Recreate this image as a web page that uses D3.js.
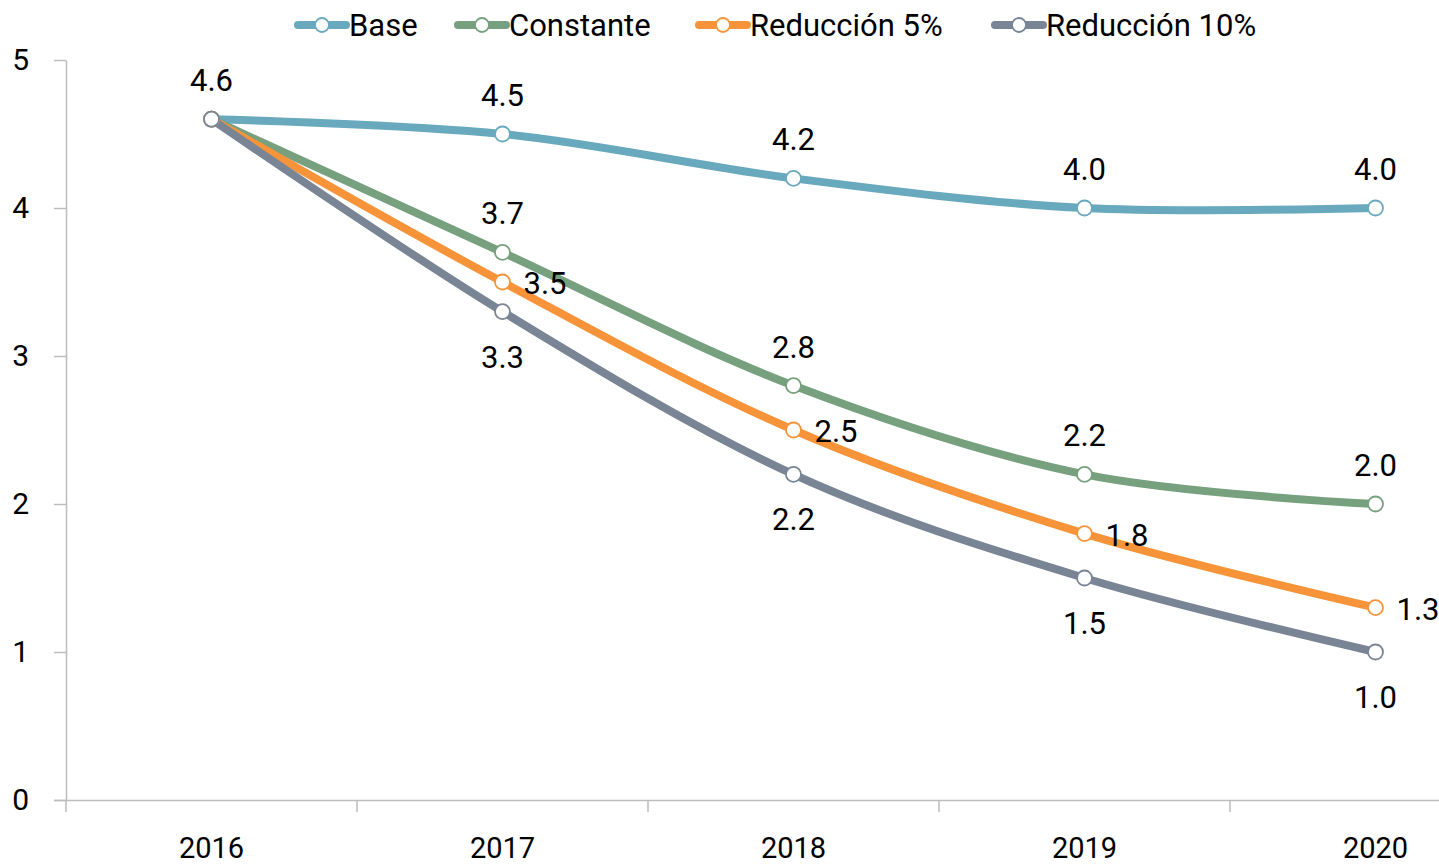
<!DOCTYPE html>
<html>
<head>
<meta charset="utf-8">
<script src="https://cdn.jsdelivr.net/npm/d3@7"></script>
<style>
  html, body { margin: 0; padding: 0; background: #fff; }
  svg { display: block; font-family: Roboto, "DejaVu Sans", sans-serif; }
</style>
</head>
<body>
<svg id="chart" width="1439" height="868"></svg>
<script>
// Years on the horizontal axis
const years = ["2016", "2017", "2018", "2019", "2020"];

// Series values per year
const base       = [4.6, 4.5, 4.2, 4.0, 4.0];
const constante  = [4.6, 3.7, 2.8, 2.2, 2.0];
const reduccion5 = [4.6, 3.5, 2.5, 1.8, 1.3];
const reduccion10 = [4.6, 3.3, 2.2, 1.5, 1.0];

// Y axis tick values
const yTicks = [0, 1, 2, 3, 4, 5];

const seriesNames = ["Base", "Constante", "Reducción 5%", "Reducción 10%"];
const seriesValues = [base, constante, reduccion5, reduccion10];
const seriesColors = ["#69a9be", "#77a07f", "#f7943a", "#798494"];
const labelPlacement = ["above", "above", "right", "below"];

const svg = d3.select("#chart");

const x = d3.scaleBand().domain(years).range([66, 1521]);
const y = d3.scaleLinear().domain([0, 5]).range([800, 60]);
const cx = d => x(d) + x.bandwidth() / 2;

const axisColor = "#bdbdbd";
const fontSize = 31;

// Y axis
const yAxis = svg.append("g")
  .attr("transform", "translate(66,0)")
  .call(d3.axisLeft(y).tickValues(yTicks).tickFormat(d3.format("d"))
    .tickSize(12).tickPadding(25).tickSizeOuter(0));
yAxis.select(".domain").attr("stroke", axisColor).attr("stroke-width", 1.5);
yAxis.selectAll(".tick line").attr("stroke", axisColor).attr("stroke-width", 1.5);
yAxis.selectAll(".tick text")
  .attr("fill", "#000").attr("font-size", 30).attr("font-family", "Roboto, sans-serif")
  .attr("dy", "0.3em");

// X axis with ticks on band boundaries
const xAxis = svg.append("g")
  .attr("transform", "translate(0,800)")
  .call(d3.axisBottom(x).tickSize(0).tickPadding(37).tickSizeOuter(0));
xAxis.select(".domain").attr("stroke", axisColor).attr("stroke-width", 1.5)
  .attr("d", "M54,0.5H1521");
xAxis.selectAll(".tick text")
  .attr("fill", "#000").attr("font-size", 29).attr("font-family", "Roboto, sans-serif");
xAxis.selectAll(".boundary")
  .data(years)
  .join("line")
  .attr("class", "boundary")
  .attr("x1", d => x(d)).attr("x2", d => x(d))
  .attr("y1", 0).attr("y2", 12)
  .attr("stroke", axisColor).attr("stroke-width", 1.5);

// Lines
const line = d3.line()
  .x((d, i) => cx(years[i]))
  .y(d => y(d))
  .curve(d3.curveCardinal.tension(0));

seriesValues.forEach((vals, s) => {
  svg.append("path")
    .datum(vals)
    .attr("d", line)
    .attr("fill", "none")
    .attr("stroke", seriesColors[s])
    .attr("stroke-width", 8)
    .attr("stroke-linecap", "round");
});

// Markers
seriesValues.forEach((vals, s) => {
  svg.append("g").selectAll("circle")
    .data(vals)
    .join("circle")
    .attr("cx", (d, i) => cx(years[i]))
    .attr("cy", d => y(d))
    .attr("r", 7.5)
    .attr("fill", "#fff")
    .attr("stroke", seriesColors[s])
    .attr("stroke-width", 1.8);
});

// Value labels (the shared 2016 start value is labelled once)
seriesValues.forEach((vals, s) => {
  const place = labelPlacement[s];
  svg.append("g").selectAll("text")
    .data(vals.map((v, i) => ({ v, i })).filter(d => s === 0 || d.i > 0))
    .join("text")
    .attr("x", d => cx(years[d.i]) + (place === "right" ? 21 : 0))
    .attr("y", d => {
      const py = y(d.v);
      if (place === "above") return py - 28;
      if (place === "below") return py + 56;
      return py + 12;
    })
    .attr("text-anchor", place === "right" ? "start" : "middle")
    .attr("font-size", fontSize)
    .attr("fill", "#000")
    .text(d => d.v.toFixed(1));
});

// Legend
const legendX = [296, 456, 697, 993];
const legend = svg.append("g");
seriesNames.forEach((name, s) => {
  const g = legend.append("g").attr("transform", `translate(${legendX[s]},25)`);
  g.append("line")
    .attr("x1", 2).attr("x2", 50).attr("y1", 0).attr("y2", 0)
    .attr("stroke", seriesColors[s]).attr("stroke-width", 8)
    .attr("stroke-linecap", "round");
  g.append("circle")
    .attr("cx", 26).attr("cy", 0).attr("r", 7)
    .attr("fill", "#fff").attr("stroke", seriesColors[s]).attr("stroke-width", 1.8);
  g.append("text")
    .attr("x", 53).attr("y", 11)
    .attr("font-size", fontSize).attr("fill", "#000")
    .text(name);
});
</script>
</body>
</html>
